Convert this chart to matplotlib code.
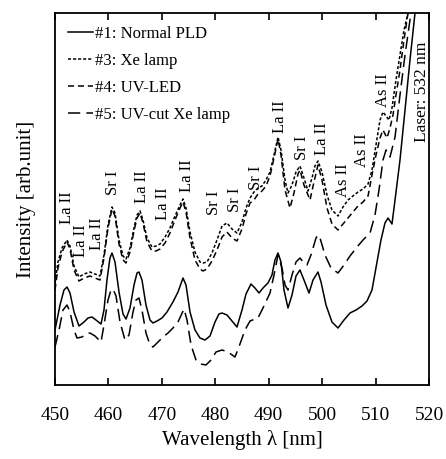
import matplotlib
matplotlib.use('Agg')
import matplotlib.pyplot as plt

plt.rcParams['font.family'] = ['Liberation Serif', 'DejaVu Serif']
plt.rcParams['mathtext.fontset'] = 'stix'

# #1: Normal PLD
wl_1 = [450.0, 450.94, 451.68, 452.25, 452.81, 453.56, 454.49, 455.43, 456.18, 456.92,
        457.67, 458.61, 459.17, 459.73, 460.29, 460.67, 461.23, 461.98, 462.73, 463.29,
        464.04, 464.79, 465.35, 465.72, 466.28, 467.03, 467.78, 468.34, 469.09, 470.03,
        470.96, 472.08, 473.02, 473.96, 474.52, 475.27, 476.20, 477.14, 478.07, 479.01,
        479.95, 480.69, 481.26, 482.19, 483.13, 484.06, 485.00, 485.75, 486.68, 487.43,
        488.18, 488.93, 489.86, 490.61, 491.17, 491.74, 492.30, 492.86, 493.61, 494.36,
        495.11, 495.85, 496.60, 497.54, 498.29, 499.22, 499.79, 500.72, 501.84, 502.97,
        504.09, 505.21, 506.34, 507.46, 508.40, 509.33, 510.27, 511.01, 511.76, 512.33,
        513.07, 513.64, 514.57, 515.51, 516.44, 517.38, 517.75]
int_1 = [55, 80, 95, 98, 92, 73, 59, 63, 67, 68,
         65, 61, 75, 105, 127, 132, 123, 93, 71, 66,
         77, 100, 112, 113, 105, 80, 65, 62, 64, 67,
         73, 83, 93, 107, 100, 73, 55, 47, 45, 49,
         63, 71, 72, 70, 64, 58, 75, 91, 101, 97,
         92, 97, 102, 110, 125, 132, 123, 95, 77, 90,
         109, 115, 105, 92, 105, 113, 103, 80, 63, 57,
         65, 72, 75, 79, 84, 95, 123, 145, 162, 167,
         161, 185, 225, 275, 325, 372, 400]

# #3: Xe lamp
wl_3 = [450.0, 450.56, 451.31, 452.25, 452.81, 453.56, 454.49, 455.43, 456.55, 457.49,
        458.42, 459.17, 459.92, 460.67, 461.23, 461.98, 462.73, 463.29, 464.04, 464.79,
        465.35, 465.91, 466.47, 467.22, 468.15, 468.90, 469.65, 470.59, 471.52, 472.46,
        473.40, 473.96, 474.52, 475.27, 476.20, 477.14, 477.70, 478.45, 479.38, 480.32,
        481.26, 482.19, 483.13, 484.06, 485.00, 485.75, 486.50, 487.24, 487.99, 488.74,
        489.49, 490.24, 490.99, 491.74, 492.30, 493.05, 493.61, 494.36, 495.11, 495.85,
        496.60, 497.35, 498.10, 498.66, 499.22, 499.97, 500.91, 501.84, 502.97, 503.90,
        504.84, 505.77, 506.71, 507.65, 508.59, 509.33, 510.08, 510.83, 511.39, 511.95,
        512.51, 513.07, 513.82, 514.57, 515.32, 516.07, 516.44]
int_3 = [102, 123, 137, 145, 139, 119, 108, 111, 113, 111,
         109, 130, 160, 178, 172, 145, 129, 126, 137, 157,
         170, 174, 165, 147, 138, 139, 141, 148, 157, 169,
         180, 186, 177, 153, 133, 123, 122, 123, 132, 145,
         159, 162, 156, 152, 163, 177, 187, 193, 197, 199,
         205, 213, 230, 248, 235, 205, 192, 200, 213, 219,
         207, 194, 207, 219, 224, 213, 190, 175, 169, 178,
         185, 189, 193, 196, 201, 215, 240, 265, 273, 269,
         265, 277, 305, 330, 355, 372, 390]

# #4: UV-LED
wl_4 = [450.0, 450.56, 451.31, 452.25, 452.81, 453.56, 454.49, 455.43, 456.55, 457.49,
        458.42, 459.17, 459.92, 460.67, 461.23, 461.98, 462.73, 463.29, 464.04, 464.79,
        465.35, 465.91, 466.47, 467.22, 468.15, 468.90, 469.65, 470.59, 471.52, 472.46,
        473.40, 473.96, 474.52, 475.27, 476.20, 477.14, 477.70, 478.45, 479.38, 480.32,
        481.26, 482.19, 483.13, 484.06, 485.00, 485.75, 486.50, 487.24, 487.99, 488.74,
        489.49, 490.24, 490.99, 491.74, 492.30, 493.05, 493.98, 494.73, 495.48, 495.85,
        496.60, 497.73, 498.47, 499.22, 499.97, 500.91, 501.84, 502.97, 503.90, 504.84,
        505.77, 506.71, 507.65, 508.59, 509.33, 510.08, 510.83, 511.39, 512.14, 512.70,
        513.26, 513.82, 514.57, 515.32, 516.07, 516.63]
int_4 = [95, 117, 133, 143, 136, 115, 104, 107, 109, 107,
         105, 127, 157, 176, 169, 141, 125, 122, 133, 154,
         167, 172, 162, 143, 134, 134, 136, 142, 152, 165,
         177, 183, 173, 147, 125, 116, 114, 116, 124, 135,
         148, 153, 147, 144, 156, 171, 182, 185, 191, 194,
         199, 209, 227, 246, 230, 195, 177, 192, 211, 215,
         200, 185, 203, 220, 205, 177, 161, 155, 161, 167,
         173, 179, 183, 189, 210, 230, 247, 255, 247, 257,
         270, 290, 315, 345, 372, 395]

# #5: UV-cut Xe lamp
wl_5 = [450.0, 450.75, 451.50, 452.25, 452.81, 453.56, 454.12, 455.05, 455.80, 456.55,
        457.49, 458.61, 459.17, 459.92, 460.48, 460.86, 461.42, 462.17, 463.10, 463.85,
        464.60, 465.16, 465.72, 466.28, 467.03, 467.78, 468.34, 469.28, 470.21, 471.15,
        472.08, 473.02, 474.14, 474.71, 475.46, 476.39, 477.33, 478.26, 479.20, 480.13,
        481.26, 482.38, 483.69, 484.62, 485.56, 486.50, 487.43, 487.99, 488.93, 490.24,
        490.99, 491.74, 492.49, 493.05, 493.61, 494.36, 495.11, 495.85, 496.60, 497.16,
        497.91, 498.85, 499.22, 499.60, 500.53, 501.66, 502.97, 504.09, 505.21, 506.53,
        507.65, 508.96, 509.89, 510.64, 511.39, 511.95, 512.70, 513.64, 514.57, 515.51,
        516.44, 517.00]
int_5 = [38, 55, 75, 80, 73, 55, 47, 48, 51, 52,
         49, 43, 60, 85, 95, 96, 89, 63, 45, 50,
         73, 85, 87, 75, 52, 40, 38, 43, 48, 52,
         57, 63, 76, 65, 40, 25, 21, 20, 25, 33,
         35, 33, 28, 41, 55, 64, 66, 67, 77, 92,
         110, 130, 117, 100, 95, 110, 123, 127, 122, 120,
         130, 147, 150, 147, 130, 117, 112, 120, 129, 138,
         145, 152, 170, 195, 225, 235, 228, 248, 290, 330,
         365, 390]

# line assignments (text, wavelength, height of label foot)
line_labels = [('La II', 452.25, 161), ('La II', 454.87, 128), ('La II', 457.86, 135),
               ('Sr I', 460.86, 190), ('La II', 466.28, 182), ('La II', 470.21, 165),
               ('La II', 474.71, 193), ('Sr I', 479.76, 170), ('Sr I', 483.69, 173),
               ('Sr I', 487.62, 195), ('La II', 492.11, 252), ('Sr I', 496.23, 225),
               ('La II', 499.97, 230), ('As II', 503.90, 188), ('As II', 507.46, 218),
               ('As II', 511.39, 278)]

fig = plt.figure(figsize=(4.46, 4.59), dpi=100)
ax = fig.add_axes([0.1233, 0.1612, 0.8386, 0.8105])

lw = 1.1
ax.plot(wl_1, int_1, color='black', lw=lw, label='#1: Normal PLD')
ax.plot(wl_3, int_3, color='black', lw=lw, dashes=(2, 1.3), label='#3: Xe lamp')
ax.plot(wl_4, int_4, color='black', lw=lw, dashes=(4, 2.5), label='#4: UV-LED')
ax.plot(wl_5, int_5, color='black', lw=lw, dashes=(8, 4), label='#5: UV-cut Xe lamp')

for txt, x, y in line_labels:
    ax.text(x, y, txt, rotation=90, ha='center', va='bottom', fontsize=12)
ax.text(518.68, 243, 'Laser: 532 nm', rotation=90, ha='center', va='bottom', fontsize=12.5)

ax.set_xlim(450, 520)
ax.set_ylim(0, 372)
ax.set_xticks(range(450, 521, 10))
ax.set_yticks([])
ax.tick_params(axis='x', direction='in', top=True, length=5, width=1.2,
               labelsize=14, pad=16)
for s in ax.spines.values():
    s.set_linewidth(1.3)

ax.set_xlabel('Wavelength λ [nm]', fontsize=15, labelpad=4)
ax.set_ylabel('Intensity [arb.unit]', fontsize=15, labelpad=14)

ax.legend(loc='upper left', frameon=False, fontsize=12, handlelength=1.5,
          handletextpad=0.1, labelspacing=0.65, borderaxespad=0.4,
          bbox_to_anchor=(0.0, 1.0))

fig.savefig('out.png', dpi=100)
